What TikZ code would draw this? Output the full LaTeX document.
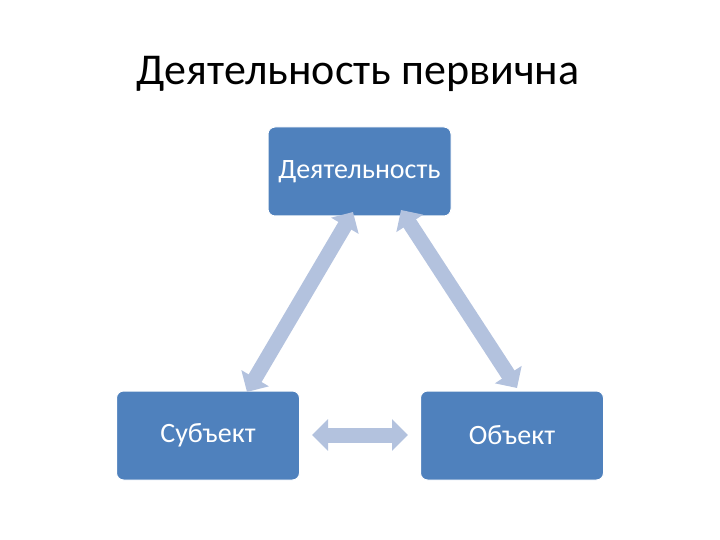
\documentclass[tikz,border=0pt]{standalone}
\usepackage{fontspec}
\setmainfont{Carlito}
\usetikzlibrary{arrows.meta}
\definecolor{boxblue}{HTML}{4F81BD}
\definecolor{arrblue}{HTML}{B3C2DE}
\tikzset{
  blkbox/.style={fill=boxblue, draw=white, line width=1pt, rounded corners=7pt,
    minimum width=183pt, minimum height=89pt, inner sep=0pt, text=white,
    font=\fontsize{28}{32}\selectfont},
  dblarrow/.style={draw=arrblue, line width=15pt,
    {Triangle[width=31pt,length=16pt]}-{Triangle[width=31pt,length=16pt]}}
}
\begin{document}
\begin{tikzpicture}[x=1pt,y=-1pt]
\useasboundingbox (0,0) rectangle (720,540);
\node[font=\fontsize{44}{52}\selectfont, anchor=base] (title) at (358,85) {Деятельность первична};
\node[blkbox] (act) at (359.5,171.5) {Деятельность};
\node[blkbox] (subj) at (208,435.5) {Субъект};
\node[blkbox] (obj) at (512,435.5) {Объект};
\coordinate (l1) at (353,212);
\coordinate (l2) at (247,392);
\coordinate (r1) at (401,210);
\coordinate (r2) at (517,388);
\coordinate (h1) at (312,435);
\coordinate (h2) at (408,435);
\draw[dblarrow] (l1) -- (l2);
\draw[dblarrow] (r1) -- (r2);
\draw[dblarrow] (h1) -- (h2);
\end{tikzpicture}
\end{document}
